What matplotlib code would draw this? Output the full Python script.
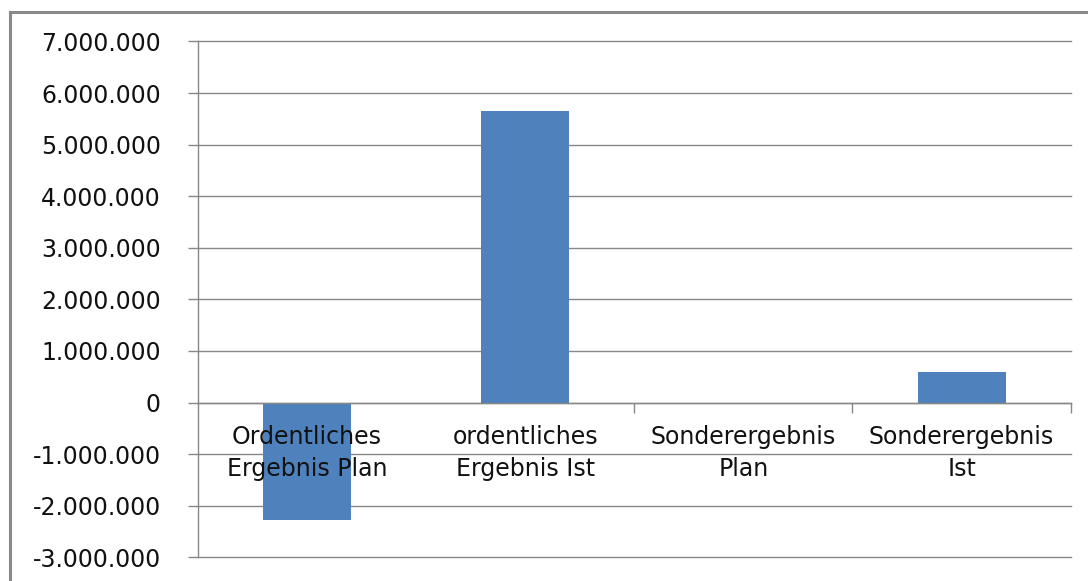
import matplotlib
matplotlib.use("Agg")
import matplotlib.pyplot as plt
from matplotlib.ticker import FixedLocator, FuncFormatter
from matplotlib.lines import Line2D

# Ergebnisrechnung: Plan- und Ist-Werte
categories = ["Ordentliches\nErgebnis Plan", "ordentliches\nErgebnis Ist",
              "Sonderergebnis\nPlan", "Sonderergebnis\nIst"]
values = [-2280000, 5645000, 0, 590000]
y_ticks = list(range(-3000000, 7000001, 1000000))

BAR_COLOR = "#4F81BD"
GRID_COLOR = "#878787"
TEXT_COLOR = "#111111"

plt.rcParams["font.family"] = ["DejaVu Sans"]

fig = plt.figure(figsize=(10.88, 5.81), dpi=100)
fig.patch.set_facecolor("white")
ax = fig.add_axes([0.1817, 0.0408, 0.8024, 0.8878])

x = list(range(len(categories)))
# bars sit above the gridlines but below the axis and its labels
ax.bar(x, values, width=0.403, color=BAR_COLOR, zorder=1)

ax.set_xlim(-0.5, len(categories) - 0.5)
ax.set_ylim(y_ticks[0], y_ticks[-1])

# horizontal gridlines
for yv in y_ticks:
    ax.axhline(yv, color=GRID_COLOR, linewidth=1.0, zorder=0, clip_on=False)
ax.grid(False)
ax.yaxis.set_major_locator(FixedLocator(y_ticks))


def de_format(v, pos=None):
    v = int(round(v))
    s = f"{abs(v):,}".replace(",", ".")
    return ("-" if v < 0 else "") + s


ax.yaxis.set_major_formatter(FuncFormatter(de_format))
ax.tick_params(axis="y", which="major", length=7.5, width=1.0, color=GRID_COLOR,
               pad=19, labelsize=17, labelcolor=TEXT_COLOR)

# spines
for side in ("top", "right"):
    ax.spines[side].set_visible(False)
ax.spines["left"].set_color(GRID_COLOR)
ax.spines["left"].set_linewidth(1.0)
ax.spines["bottom"].set_position(("data", 0))
ax.spines["bottom"].set_color(GRID_COLOR)
ax.spines["bottom"].set_linewidth(1.0)

# category boundary ticks on the zero line, labels at the centers
ax.xaxis.set_major_locator(FixedLocator([1.5, 2.5, 3.5]))
ax.xaxis.set_major_formatter(FuncFormatter(lambda v, p: ""))
ax.xaxis.set_minor_locator(FixedLocator(x))
ax.xaxis.set_minor_formatter(FuncFormatter(lambda v, p: categories[int(round(v))]))
ax.tick_params(axis="x", which="major", length=7, width=1.0, color=GRID_COLOR)
ax.tick_params(axis="x", which="minor", length=0, pad=16, labelsize=17,
               labelcolor=TEXT_COLOR)
for lbl in ax.xaxis.get_minorticklabels():
    lbl.set_linespacing(1.45)

# outer chart frame
fig.add_artist(Line2D([10 / 1088, 1.0], [1 - 12 / 581, 1 - 12 / 581],
                      transform=fig.transFigure, color="#898989", linewidth=2.2))
fig.add_artist(Line2D([10 / 1088, 10 / 1088], [0.0, 1 - 12 / 581],
                      transform=fig.transFigure, color="#898989", linewidth=2.2))

fig.savefig("out.png", dpi=100)
